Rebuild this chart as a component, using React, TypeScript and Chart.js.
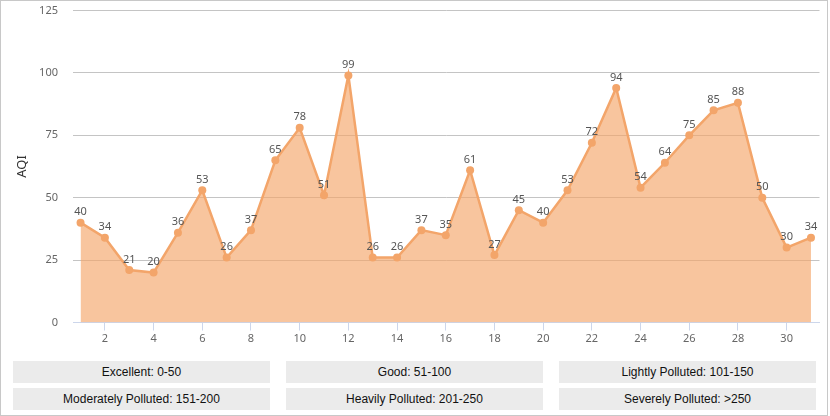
import React, { useEffect, useRef } from "react";
import { Chart, registerables } from "chart.js";

Chart.register(...registerables);

const days: number[] = [1,2,3,4,5,6,7,8,9,10,11,12,13,14,15,16,17,18,19,20,21,22,23,24,25,26,27,28,29,30,31];
const aqi: number[] = [40,34,21,20,36,53,26,37,65,78,51,99,26,26,37,35,61,27,45,40,53,72,94,54,64,75,85,88,50,30,34];
const xTicks: number[] = [2,4,6,8,10,12,14,16,18,20,22,24,26,28,30];
const yTicks: number[] = [0,25,50,75,100,125];
const legendRows: string[][] = [
  ["Excellent: 0-50", "Good: 51-100", "Lightly Polluted: 101-150"],
  ["Moderately Polluted: 151-200", "Heavily Polluted: 201-250", "Severely Polluted: >250"],
];

const LINE = "#f3a56a";
const FONT = "'Noto Sans', 'Open Sans', sans-serif";

const labelPlugin = {
  id: "pointLabels",
  afterDatasetsDraw(chart: any) {
    const ctx = chart.ctx;
    const meta = chart.getDatasetMeta(0);
    ctx.save();
    ctx.font = `11px ${FONT}`;
    ctx.fillStyle = "#555";
    ctx.textAlign = "center";
    ctx.textBaseline = "bottom";
    meta.data.forEach((pt: any, i: number) => {
      ctx.fillText(String(aqi[i]), pt.x, pt.y - 5);
    });
    ctx.restore();
  },
};

export default function App() {
  const ref = useRef<HTMLCanvasElement | null>(null);
  useEffect(() => {
    if (!ref.current) return;
    const chart = new Chart(ref.current, {
      type: "line",
      data: {
        datasets: [
          {
            data: days.map((d, i) => ({ x: d, y: aqi[i] })),
            borderColor: LINE,
            backgroundColor: "rgba(244,166,106,0.65)",
            borderWidth: 2.5,
            fill: "origin",
            tension: 0,
            pointRadius: 4,
            pointBackgroundColor: LINE,
            pointBorderWidth: 0,
          },
        ],
      },
      options: {
        animation: false,
        responsive: false,
        devicePixelRatio: 1,
        layout: { padding: { top: 10.5, right: 8.5, left: 0, bottom: 0 } },
        plugins: { legend: { display: false }, tooltip: { enabled: false } },
        scales: {
          x: {
            type: "linear",
            min: 0.69,
            max: 31.35,
            afterBuildTicks: (s: any) => {
              s.ticks = xTicks.map((v) => ({ value: v }));
            },
            afterFit: (s: any) => {
              s.height = 27.5;
            },
            grid: {
              drawOnChartArea: false,
              drawTicks: true,
              tickLength: 8,
              color: "#ccd6eb",
            },
            border: { color: "#ccd6eb" },
            ticks: {
              color: "#666",
              font: { size: 11, family: FONT },
              padding: 2,
              maxRotation: 0,
              autoSkip: false,
            },
          },
          y: {
            min: 0,
            max: 125,
            afterBuildTicks: (s: any) => {
              s.ticks = yTicks.map((v) => ({ value: v }));
            },
            afterFit: (s: any) => {
              s.width = 73;
              s.paddingTop = 0;
              s.paddingBottom = 0;
            },
            grid: { color: "#c4c4c4", drawTicks: false },
            border: { display: false },
            ticks: {
              color: "#666",
              font: { size: 11, family: FONT },
              padding: 15,
            },
            title: {
              display: true,
              text: "AQI",
              color: "#333",
              font: { size: 13, family: FONT },
              padding: { top: 14, bottom: 0 },
            },
          },
        },
      },
      plugins: [labelPlugin],
    });
    return () => chart.destroy();
  }, []);

  const cols = [13, 286, 559];
  const rows = [361, 388];
  return (
    <div
      style={{
        position: "absolute",
        left: 0,
        top: 0,
        width: 828,
        height: 416,
        border: "1px solid #c8c8c8",
        boxSizing: "border-box",
        background: "#fff",
      }}
    >
      <canvas
        ref={ref}
        width={828}
        height={350}
        style={{ position: "absolute", left: -1, top: -1, width: 828, height: 350 }}
      />
      {legendRows.map((row, r) =>
        row.map((txt, c) => (
          <div
            key={`${r}-${c}`}
            style={{
              position: "absolute",
              left: cols[c] - 1,
              top: rows[r] - 1,
              width: 257,
              height: 22,
              lineHeight: "22px",
              background: "#ebebeb",
              color: "#111",
              textAlign: "center",
              fontFamily: "'Liberation Sans', Arial, sans-serif",
              fontSize: 12,
            }}
          >
            {txt}
          </div>
        ))
      )}
    </div>
  );
}
